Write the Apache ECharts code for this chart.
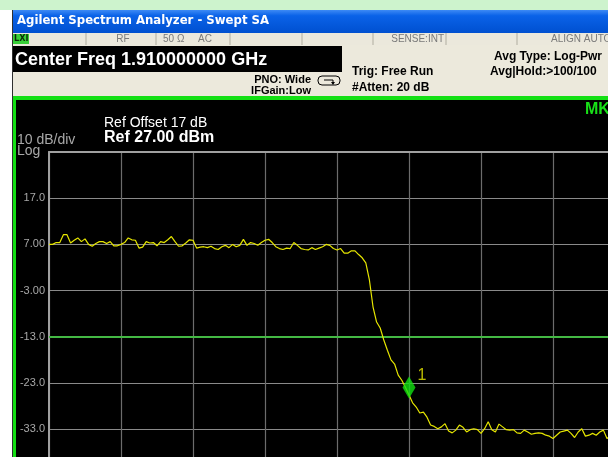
<!DOCTYPE html>
<html>
<head>
<meta charset="utf-8">
<script src="https://cdn.jsdelivr.net/npm/echarts@6/dist/echarts.min.js"></script>
<style>
html,body{margin:0;padding:0;background:#000;}
#c{width:608px;height:457px;}
</style>
</head>
<body>
<div id="c"></div>
<script>
// ---- data ----
var titleText = 'Agilent Spectrum Analyzer - Swept SA';
var centerFreqText = 'Center Freq 1.910000000 GHz';
var refOffsetText = 'Ref Offset 17 dB';
var refLevelText = 'Ref 27.00 dBm';
var scaleText = '10 dB/div';
var refLevelDbm = 27;
var dbPerDiv = 10;
var numDivs = 10;
var displayLineDbm = -13;
// trace amplitude (dBm), one reading every 0.05 horizontal division starting at the left edge
var traceStepDiv = 0.05;
var traceDbm = [
  7.0, 7.0, 7.4, 7.4, 9.1, 9.1, 7.3, 7.9, 8.4, 7.6,
  8.2, 7.0, 6.6, 7.2, 7.6, 7.6, 7.2, 7.6, 6.7, 6.7,
  7.0, 7.4, 8.4, 8.0, 7.9, 6.2, 6.4, 7.6, 7.3, 7.4,
  6.7, 7.6, 7.4, 8.0, 8.7, 7.6, 6.6, 6.7, 7.3, 8.0,
  7.9, 6.2, 6.4, 6.5, 6.3, 6.6, 6.1, 5.9, 6.5, 6.8,
  6.3, 7.0, 6.5, 6.8, 8.1, 6.8, 7.4, 7.2, 6.8, 7.4,
  7.9, 8.1, 7.4, 6.5, 6.1, 5.9, 6.2, 6.1, 7.4, 6.8,
  6.1, 5.9, 5.8, 6.3, 5.9, 6.2, 6.5, 7.0, 6.8, 6.1,
  5.8, 6.1, 5.1, 5.1, 5.6, 5.6, 4.8, 4.1, 3.0, -0.7,
  -6.5, -9.8, -11.1, -13.7, -15.9, -18.0, -18.9, -21.3, -22.4, -23.9,
  -25.6, -27.3, -28.2, -29.5, -29.3, -30.4, -32.1, -32.4, -32.9, -32.5,
  -31.8, -33.4, -33.8, -33.2, -32.1, -32.6, -33.6, -33.1, -32.9, -33.1,
  -33.9, -32.9, -31.4, -33.1, -33.6, -31.9, -32.5, -33.1, -33.2, -33.1,
  -33.8, -33.9, -33.2, -33.6, -34.1, -33.9, -33.8, -33.9, -34.3, -34.5,
  -35.0, -34.3, -33.6, -33.4, -33.2, -33.9, -34.8, -33.6, -32.9, -34.5,
  -34.3, -33.9, -34.3, -33.6, -33.2, -35.0, -34.5
];
var markerNames = ['1'];
var markerDiv = [5.0];
var markerDbm = [-24.0];
var statusTexts = ['RF', '50 Ω', 'AC', 'SENSE:INT', 'ALIGN AUTO'];
var settingsTexts = ['PNO: Wide', 'IFGain:Low', 'Trig: Free Run', '#Atten: 20 dB', 'Avg Type: Log-Pwr', 'Avg|Hold:>100/100'];
var mkrText = 'MKR1';

// ---- build ----
var tracePoints = traceDbm.map(function (v, i) { return [i * traceStepDiv, v]; });
var markerPoints = markerDiv.map(function (x, i) { return { value: [x, markerDbm[i]], name: markerNames[i] }; });

var F = 'Liberation Sans, Arial, sans-serif';
var FN = 'Liberation Sans Narrow, DejaVu Sans Condensed, Liberation Sans, sans-serif';

function txt(x, y, s, o) {
  o = o || {};
  return {
    type: 'text', x: x, y: y, z: 20,
    style: {
      text: s, fill: o.fill || '#000', font: (o.weight || 'normal') + ' ' + (o.size || 12) + 'px ' + (o.family || F),
      textAlign: o.align || 'left', textVerticalAlign: 'middle'
    }
  };
}
function rect(x, y, w, h, fill, z) {
  return { type: 'rect', shape: { x: x, y: y, width: w, height: h }, style: { fill: fill }, z: z || 1, silent: true };
}
function vline(x, y1, y2, c) {
  return { type: 'line', shape: { x1: x, y1: y1, x2: x, y2: y2 }, style: { stroke: c, lineWidth: 1 }, z: 3 };
}

var graphics = [
  rect(0, 0, 608, 10, '#cdf3cd'),
  rect(0, 10, 12, 447, '#ffffff'),
  rect(12, 10, 1, 447, '#303030'),
  { type: 'rect', shape: { x: 13, y: 10, width: 595, height: 23 }, z: 1,
    style: { fill: { type: 'linear', x: 0, y: 0, x2: 0, y2: 1, colorStops: [
      { offset: 0, color: '#3d8af5' }, { offset: 0.25, color: '#0a62e8' }, { offset: 1, color: '#0050d0' }] } } },
  txt(17, 21, titleText, { fill: '#ffffff', weight: 'bold', size: 13, family: FN }),
  // status bar
  rect(13, 33, 595, 12, '#ebe8dc'),
  rect(13, 34, 16, 10, '#38d038', 2),
  txt(14, 39, 'LXI', { fill: '#0a2a0a', weight: 'bold', size: 9, family: FN }),
  vline(86, 33, 45, '#b0ada0'),
  vline(156, 33, 45, '#b0ada0'),
  vline(230, 33, 45, '#b0ada0'),
  vline(302, 33, 45, '#b0ada0'),
  vline(373, 33, 45, '#b0ada0'),
  vline(446, 33, 45, '#b0ada0'),
  vline(517, 33, 45, '#b0ada0'),
  txt(123, 39, statusTexts[0], { fill: '#7a7a7a', size: 10, align: 'center' }),
  txt(163, 39, statusTexts[1], { fill: '#7a7a7a', size: 10 }),
  txt(198, 39, statusTexts[2], { fill: '#7a7a7a', size: 10 }),
  txt(444, 39, statusTexts[3], { fill: '#7a7a7a', size: 10, align: 'right' }),
  txt(551, 39, statusTexts[4], { fill: '#7a7a7a', size: 10 }),
  // settings rows
  rect(13, 45, 595, 51, '#ece9dc'),
  rect(13, 46, 329, 26, '#000000', 2),
  txt(15, 60, centerFreqText, { fill: '#ffffff', weight: 'bold', size: 18 }),
  txt(311, 80, settingsTexts[0], { weight: 'bold', size: 11, align: 'right' }),
  txt(311, 91, settingsTexts[1], { weight: 'bold', size: 11, align: 'right' }),
  { type: 'rect', shape: { x: 318, y: 76, width: 22, height: 9, r: 4 }, style: { fill: 'none', stroke: '#000', lineWidth: 1 }, z: 20 },
  { type: 'polyline', shape: { points: [[324, 80], [333, 80], [333, 83]] }, style: { stroke: '#000', lineWidth: 1, fill: 'none' }, z: 20 },
  { type: 'polygon', shape: { points: [[331, 82], [335, 82], [333, 85]] }, style: { fill: '#000' }, z: 20 },
  txt(352, 72, settingsTexts[2], { weight: 'bold', size: 12 }),
  txt(352, 88, settingsTexts[3], { weight: 'bold', size: 12 }),
  txt(494, 57, settingsTexts[4], { weight: 'bold', size: 12 }),
  txt(490, 72, settingsTexts[5], { weight: 'bold', size: 12 }),
  // green frame
  rect(13, 96, 595, 4, '#14e014', 3),
  rect(13, 96, 3, 361, '#14e014', 3),
  txt(585, 110, mkrText, { fill: '#18e018', weight: 'bold', size: 16 }),
  txt(104, 123, refOffsetText, { fill: '#ffffff', size: 14 }),
  txt(104, 138, refLevelText, { fill: '#ffffff', weight: 'bold', size: 16 }),
  txt(17, 140, scaleText, { fill: '#a8a8a8', size: 14 }),
  txt(17, 151, 'Log', { fill: '#a8a8a8', size: 14 })
];

var chart = echarts.init(document.getElementById('c'), null, { renderer: 'canvas' });
chart.setOption({
  backgroundColor: '#000000',
  animation: false,
  graphic: graphics,
  grid: { left: 49, top: 152, width: 720, height: 462, containLabel: false, outerBoundsMode: 'none' },
  xAxis: {
    type: 'value', min: 0, max: numDivs, interval: 1, position: 'top',
    axisLine: { show: true, onZero: false, lineStyle: { color: '#a0a0a0', width: 2 } },
    axisTick: { show: false }, axisLabel: { show: false },
    splitLine: { show: true, lineStyle: { color: '#6c6c6c', width: 1.2 } }
  },
  yAxis: {
    type: 'value', min: refLevelDbm - numDivs * dbPerDiv, max: refLevelDbm, interval: dbPerDiv,
    axisLine: { show: true, onZero: false, lineStyle: { color: '#a0a0a0', width: 2 } },
    axisTick: { show: false },
    axisLabel: {
      color: '#a8a8a8', fontSize: 11, fontFamily: F, margin: 4,
      formatter: function (v) {
        if (v === refLevelDbm) return '';
        return Math.abs(v) < 10 ? v.toFixed(2) : v.toFixed(1);
      }
    },
    splitLine: { show: true, lineStyle: { color: '#8a8a8a', width: 1 } }
  },
  series: [
    {
      type: 'line', data: tracePoints, showSymbol: false, symbol: 'none',
      lineStyle: { color: '#e6e600', width: 1.2 }, z: 5,
      markLine: {
        silent: true, symbol: 'none', label: { show: false },
        lineStyle: { color: '#44b844', width: 2, type: 'solid' },
        data: [{ yAxis: displayLineDbm }]
      }
    },
    {
      type: 'scatter', data: markerPoints, symbol: 'diamond', symbolSize: [13, 22], z: 6,
      itemStyle: { color: '#10e010' },
      label: { show: true, formatter: '{b}', position: 'right', offset: [-3, -12], color: '#e6e600', fontSize: 16, fontFamily: F }
    }
  ]
});
</script>
</body>
</html>
